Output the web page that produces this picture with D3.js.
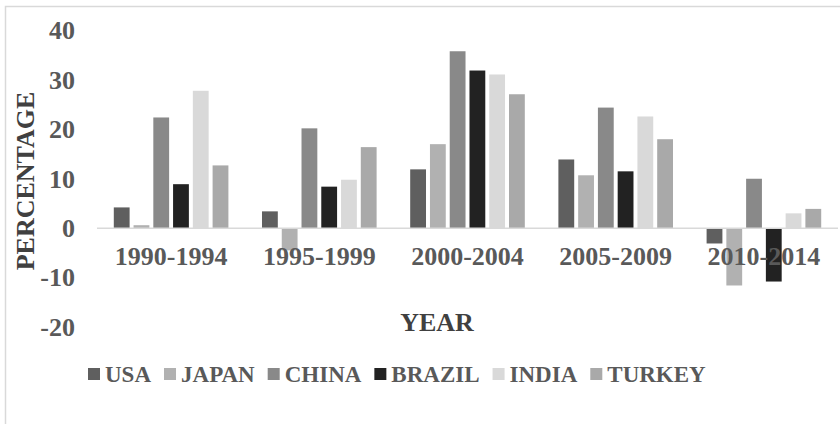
<!DOCTYPE html>
<html>
<head>
<meta charset="utf-8">
<script src="https://cdn.jsdelivr.net/npm/d3@7"></script>
<style>
  html, body { margin: 0; padding: 0; background: #ffffff; }
  svg { display: block; }
  text { font-family: "Liberation Serif", "Times New Roman", serif; font-weight: bold; }
</style>
</head>
<body>
<svg id="chart" width="840" height="424"></svg>
<script>
// Periods on the category axis
const categories = ["1990-1994", "1995-1999", "2000-2004", "2005-2009", "2010-2014"];
// Countries (series) in legend order
const seriesNames = ["USA", "JAPAN", "CHINA", "BRAZIL", "INDIA", "TURKEY"];
// Percentage values per period
const usa    = [4.2, 3.4, 11.9, 13.9, -3.1];
const japan  = [0.6, -4.5, 17.0, 10.7, -11.6];
const china  = [22.4, 20.2, 35.8, 24.4, 10.0];
const brazil = [8.9, 8.4, 31.9, 11.5, -10.8];
const india  = [27.8, 9.8, 31.1, 22.6, 3.0];
const turkey = [12.7, 16.4, 27.1, 18.0, 3.9];
// Value axis ticks
const yTicks = [-20, -10, 0, 10, 20, 30, 40];

const seriesValues = [usa, japan, china, brazil, india, turkey];
const colors = ["#5f5f5f", "#b1b1b1", "#898989", "#222222", "#d9d9d9", "#a9a9a9"];

const rows = [];
categories.forEach((c, i) => {
  seriesNames.forEach((s, j) => rows.push({ cat: c, series: s, value: seriesValues[j][i], color: colors[j] }));
});

const svg = d3.select("#chart");

// Chart frame
svg.append("rect")
  .attr("x", 5.5).attr("y", 6.5)
  .attr("width", 850).attr("height", 440)
  .attr("fill", "#ffffff")
  .attr("stroke", "#d9d9d9").attr("stroke-width", 1.5);

const x0 = d3.scaleBand().domain(categories).range([97, 838]).paddingInner(0.2).paddingOuter(0.1);
const x1 = d3.scaleBand().domain(seriesNames).range([0, x0.bandwidth()]).paddingInner(0.2).paddingOuter(0.1);
const y = d3.scaleLinear().domain([-20, 40]).range([327, 30.5]);

// Bars
svg.append("g").selectAll("rect")
  .data(rows)
  .join("rect")
  .attr("x", d => x0(d.cat) + x1(d.series))
  .attr("width", x1.bandwidth())
  .attr("y", d => y(Math.max(0, d.value)))
  .attr("height", d => Math.abs(y(d.value) - y(0)))
  .attr("fill", d => d.color);

// Zero baseline
svg.append("line")
  .attr("x1", 97).attr("x2", 838)
  .attr("y1", y(0)).attr("y2", y(0))
  .attr("stroke", "#d9d9d9").attr("stroke-width", 1.5);

const styleAxisText = sel => sel
  .attr("fill", "#595959")
  .style("font-size", "26px")
  .style("font-family", "'Liberation Serif', serif")
  .style("font-weight", "bold");

// Value axis labels (plain hyphen for negatives)
const yAxis = svg.append("g")
  .attr("transform", "translate(75,0)")
  .call(d3.axisLeft(y).tickValues(yTicks).tickSize(0).tickPadding(0).tickFormat(d => String(d)));
yAxis.select(".domain").remove();
yAxis.selectAll("text").call(styleAxisText);

// Category axis labels (drawn over the bars)
const xAxis = svg.append("g")
  .attr("transform", `translate(0,${y(0)})`)
  .call(d3.axisBottom(x0).tickSize(0).tickPadding(18));
xAxis.select(".domain").remove();
xAxis.selectAll("text").call(styleAxisText);

// Axis titles
svg.append("text")
  .attr("x", 437).attr("y", 331)
  .attr("text-anchor", "middle")
  .attr("fill", "#404040")
  .style("font-size", "26px")
  .text("YEAR");

svg.append("text")
  .attr("transform", "translate(34,181) rotate(-90)")
  .attr("text-anchor", "middle")
  .attr("fill", "#404040")
  .style("font-size", "26px")
  .text("PERCENTAGE");

// Legend
const legend = svg.append("g");
let lx = 88;
seriesNames.forEach((s, j) => {
  legend.append("rect")
    .attr("x", lx).attr("y", 368)
    .attr("width", 12).attr("height", 12)
    .attr("fill", colors[j]);
  const t = legend.append("text")
    .attr("x", lx + 17).attr("y", 382)
    .attr("fill", "#595959")
    .style("font-size", "23px")
    .text(s);
  lx += 17 + t.node().getComputedTextLength() + 13;
});
</script>
</body>
</html>
